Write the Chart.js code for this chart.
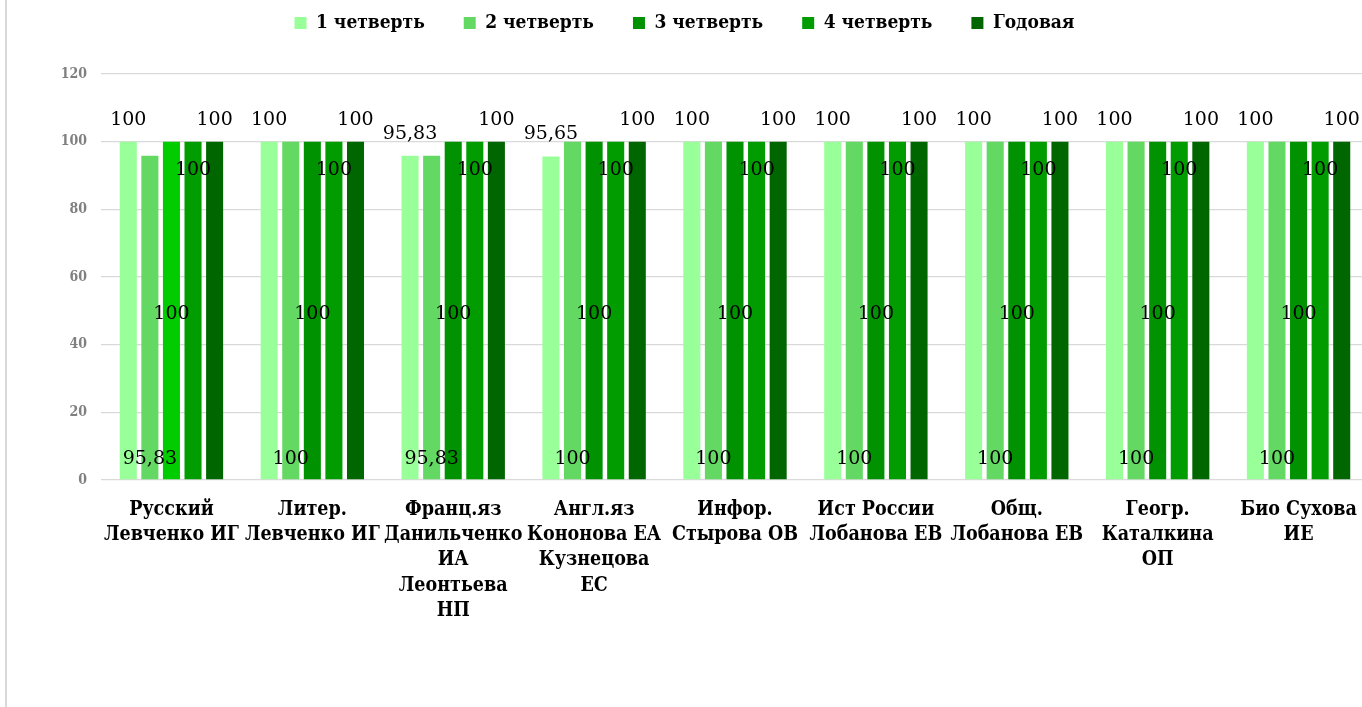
<!DOCTYPE html>
<html lang="ru">
<head>
<meta charset="utf-8">
<title>Успеваемость по предметам</title>
<script src="https://cdn.jsdelivr.net/npm/chart.js@4.4.1/dist/chart.umd.min.js"></script>
<style>
    html, body {
        margin: 0;
        padding: 0;
        background: #ffffff;
        overflow: hidden;
        width: 1362px;
        height: 707px;
    }
    .wrap {
        position: relative;
        width: 1362px;
        height: 707px;
        overflow: hidden;
    }
    .edge {
        position: absolute;
        left: 5px;
        top: 0;
        width: 2px;
        height: 707px;
        background: #d9d9d9;
    }
    #gradesChart {
        position: absolute;
        left: 0;
        top: 0;
    }
</style>
</head>
<body>
<div class="wrap">
    <div class="edge"></div>
    <canvas id="gradesChart" width="1375" height="707"></canvas>
</div>
<script>
const categories = [
    ['Русский', 'Левченко ИГ'],
    ['Литер.', 'Левченко ИГ'],
    ['Франц.яз', 'Данильченко', 'ИА', 'Леонтьева', 'НП'],
    ['Англ.яз', 'Кононова ЕА', 'Кузнецова', 'ЕС'],
    ['Инфор.', 'Стырова ОВ'],
    ['Ист России', 'Лобанова ЕВ'],
    ['Общ.', 'Лобанова ЕВ'],
    ['Геогр.', 'Каталкина', 'ОП'],
    ['Био Сухова', 'ИЕ']
];
const seriesNames = ['1 четверть', '2 четверть', '3 четверть', '4 четверть', 'Годовая'];
const quarter1 = [100, 100, 95.83, 95.65, 100, 100, 100, 100, 100];
const quarter2 = [95.83, 100, 95.83, 100, 100, 100, 100, 100, 100];
const quarter3 = [100, 100, 100, 100, 100, 100, 100, 100, 100];
const quarter4 = [100, 100, 100, 100, 100, 100, 100, 100, 100];
const yearly = [100, 100, 100, 100, 100, 100, 100, 100, 100];
const yTicks = [0, 20, 40, 60, 80, 100, 120];

const serif = "'DejaVu Serif', serif";
const serifCond = "'DejaVu Serif Condensed', 'DejaVu Serif', serif";

const colors = ['#99ff99', '#63d963', '#009200', '#009c00', '#006600'];

// where each series puts its value label (like Excel: outside end, inside base, center, inside end)
const labelPlaces = ['outEnd', 'inBase', 'center', 'inEnd', 'outEnd'];

const valueLabels = {
    id: 'valueLabels',
    afterDatasetsDraw(chart) {
        const c = chart.ctx;
        c.save();
        c.font = '19px ' + serif;
        c.fillStyle = '#000000';
        c.textAlign = 'center';
        c.textBaseline = 'middle';
        chart.data.datasets.forEach(function (ds, di) {
            const meta = chart.getDatasetMeta(di);
            meta.data.forEach(function (bar, i) {
                const v = ds.data[i];
                let y;
                if (labelPlaces[di] === 'outEnd') y = bar.y - 22;
                else if (labelPlaces[di] === 'inBase') y = bar.base - 20;
                else if (labelPlaces[di] === 'center') y = (bar.y + bar.base) / 2 + 4;
                else y = bar.y + 28;
                c.fillText(String(v).replace('.', ','), bar.x, y);
            });
        });
        c.restore();
    }
};

// legend keeps 74px on top, row itself sits higher
const legendShift = {
    id: 'legendShift',
    beforeInit(chart) {
        const origFit = chart.legend.fit;
        chart.legend.fit = function () {
            origFit.bind(chart.legend)();
            this.height = 74;
        };
    },
    afterLayout(chart) {
        const lg = chart.legend;
        const pad = lg.options.labels.padding;
        const fs = lg.options.labels.font.size;
        lg.top = 23 - pad - fs / 2;
    }
};

document.addEventListener('DOMContentLoaded', function () {
    const ctx = document.getElementById('gradesChart').getContext('2d');

    const values = [quarter1, quarter2, quarter3, quarter4, yearly];

    const datasets = values.map(function (arr, k) {
        let bg = colors[k];
        if (k === 2) {
            // first group's 3rd quarter bar is brighter in the original
            bg = arr.map(function (_, i) { return i === 0 ? '#00cc00' : colors[k]; });
        }
        return {
            label: seriesNames[k],
            data: arr,
            backgroundColor: bg,
            borderWidth: 0,
            categoryPercentage: 0.766,
            barPercentage: 0.79
        };
    });

    const gradesChart = new Chart(ctx, {
        type: 'bar',
        data: {
            labels: categories,
            datasets: datasets
        },
        options: {
            responsive: false,
            animation: false,
            layout: {
                padding: { left: 0, right: 6, top: 0, bottom: 0 }
            },
            scales: {
                x: {
                    grid: { display: false, drawTicks: false },
                    border: { display: false },
                    ticks: {
                        color: '#000000',
                        padding: 17,
                        maxRotation: 0,
                        autoSkip: false,
                        font: { family: serifCond, size: 19.5, weight: 'bold', lineHeight: 1.3 }
                    },
                    afterFit: function (scale) {
                        scale.height = 227;
                    }
                },
                y: {
                    min: 0,
                    max: 120,
                    afterBuildTicks: function (scale) {
                        scale.ticks = yTicks.map(function (v) { return { value: v }; });
                    },
                    grid: { color: '#d9d9d9', lineWidth: 1.3, drawTicks: false },
                    border: { display: false },
                    ticks: {
                        color: '#808080',
                        padding: 14,
                        font: { family: serifCond, size: 14, weight: 'bold' }
                    },
                    afterFit: function (scale) {
                        scale.width = 101;
                    }
                }
            },
            plugins: {
                legend: {
                    position: 'top',
                    labels: {
                        color: '#000000',
                        boxWidth: 12,
                        boxHeight: 12,
                        padding: 39,
                        font: { family: serifCond, size: 19, weight: 'bold' },
                        generateLabels: function (chart) {
                            const items = Chart.defaults.plugins.legend.labels.generateLabels(chart);
                            items.forEach(function (it, k) {
                                it.fillStyle = colors[k];
                                it.strokeStyle = colors[k];
                                it.lineWidth = 0;
                            });
                            return items;
                        }
                    }
                },
                tooltip: { enabled: false }
            }
        },
        plugins: [valueLabels, legendShift]
    });
});
</script>
</body>
</html>
